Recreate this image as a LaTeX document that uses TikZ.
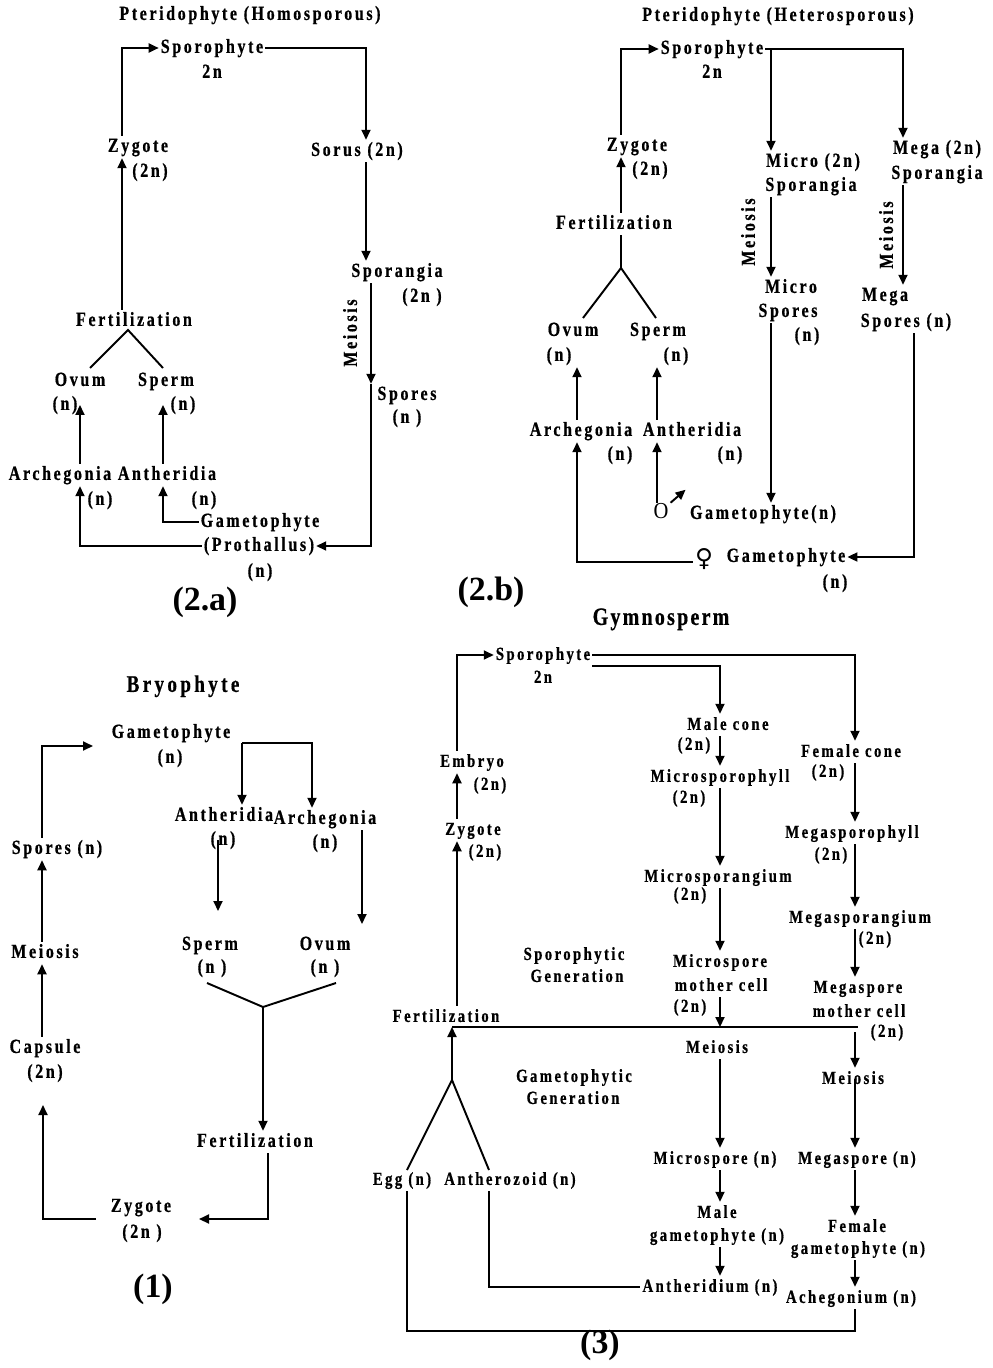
\documentclass[tikz,border=0pt]{standalone}
\usepackage{fontspec}
\usetikzlibrary{arrows.meta}
\newfontfamily\spc{Liberation Serif Bold}[FakeStretch=0.8,LetterSpace=13,FakeBold=0.6]
\newfontfamily\tspc{Liberation Serif Bold}[FakeStretch=0.8,LetterSpace=14,FakeBold=0.6]
\newfontfamily\gspc{Liberation Serif Bold}[FakeStretch=0.8,LetterSpace=9,FakeBold=0.6]
\newfontfamily\figf{Liberation Serif Bold}
\newfontfamily\ofont{Liberation Serif}[FakeStretch=0.9]
\newfontfamily\venus{DejaVu Sans}

\begin{document}
\begin{tikzpicture}[x=0.02cm,y=-0.02cm,
    every node/.style={inner sep=1pt,text height=8pt,text depth=2.4pt},
    lbl/.style={font=\spc\fontsize{11.4}{13}\selectfont},
    nlbl/.style={font=\spc\fontsize{10.5}{12}\selectfont},
    mlbl/.style={lbl,rotate=90},
    figlbl/.style={font=\figf\fontsize{19.3}{21}\selectfont},
    ln/.style={line width=1.1pt},
    arr/.style={ln,-{Triangle[length=0.2cm,width=0.18cm]}}]
\useasboundingbox (0,0) rectangle (992,1368);

\node[lbl] (ttl2a) at (250,15) {Pteridophyte (Homosporous)};
\node[lbl] (spo2a) at (212,48) {Sporophyte};
\node[lbl] (spo2an) at (212,73) {2n};
\node[lbl] (zyg2a) at (138,147) {Zygote};
\node[lbl] (zyg2an) at (150,172) {(2n)};
\node[lbl] (sor2a) at (357,151) {Sorus (2n)};
\node[lbl] (spg2a) at (397,272) {Sporangia};
\node[lbl] (spg2an) at (422,297) {(2n~)};
\node[mlbl] (mei2a) at (352,333) {Meiosis};
\node[lbl] (spr2a) at (407,395) {Spores};
\node[lbl] (spr2an) at (407,418) {(n~)};
\node[lbl] (fer2a) at (134,321) {Fertilization};
\node[lbl] (ovu2a) at (80,381) {Ovum};
\node[lbl] (ovu2an) at (65,405) {(n)};
\node[lbl] (spe2a) at (166,381) {Sperm};
\node[lbl] (spe2an) at (183,405) {(n)};
\node[lbl] (arc2a) at (60,475) {Archegonia};
\node[lbl] (arc2an) at (100,500) {(n)};
\node[lbl] (ant2a) at (167,475) {Antheridia};
\node[lbl] (ant2an) at (204,500) {(n)};
\node[lbl] (gam2a) at (260,522) {Gametophyte};
\node[lbl] (gam2ap) at (259,546) {(Prothallus)};
\node[lbl] (gam2an) at (260,572) {(n)};
\node[figlbl] (fig2a) at (205,606) {(2.a)};
\coordinate (c2a1) at (122,0);
\coordinate (c2a2) at (366,0);
\coordinate (c2a3) at (371,0);
\coordinate (c2a4) at (80,0);
\coordinate (c2a5) at (163,0);
\coordinate (v2aL) at (90,368);
\coordinate (v2aT) at (128,330);
\coordinate (v2aR) at (163,368);
\draw[arr] (c2a1 |- zyg2a.north) |- (spo2a.west);
\draw[arr] (c2a1 |- fer2a.north) -- (c2a1 |- zyg2a.south);
\draw[arr] (spo2a.east) -| (c2a2 |- sor2a.north);
\draw[arr] (c2a2 |- sor2a.south) -- (c2a2 |- spg2a.north);
\draw[arr] (c2a3 |- spg2a.south) -- (c2a3 |- spr2a.north);
\draw[arr] (c2a3 |- spr2a.north) |- (gam2ap.east);
\draw[arr] (gam2a.west) -| (c2a5 |- ant2a.south);
\draw[arr] (gam2ap.west) -| (c2a4 |- arc2a.south);
\draw[arr] (c2a4 |- arc2a.north) -- (c2a4 |- ovu2an.center);
\draw[arr] (c2a5 |- ant2a.north) -- (c2a5 |- spe2an.center);
\draw[ln] (v2aL) -- (v2aT) -- (v2aR);

\node[lbl] (ttl2b) at (778,16) {Pteridophyte (Heterosporous)};
\node[lbl] (spo2b) at (712,49) {Sporophyte};
\node[lbl] (spo2bn) at (712,73) {2n};
\node[lbl] (zyg2b) at (637,146) {Zygote};
\node[lbl] (zyg2bn) at (650,170) {(2n)};
\node[lbl] (fer2b) at (614,224) {Fertilization};
\node[lbl] (ovu2b) at (573,331) {Ovum};
\node[lbl] (ovu2bn) at (559,356) {(n)};
\node[lbl] (spe2b) at (658,331) {Sperm};
\node[lbl] (spe2bn) at (676,356) {(n)};
\node[lbl] (arc2b) at (581,431) {Archegonia};
\node[lbl] (arc2bn) at (620,455) {(n)};
\node[lbl] (ant2b) at (692,431) {Antheridia};
\node[lbl] (ant2bn) at (730,455) {(n)};
\node[lbl] (mic2b) at (813,162) {Micro (2n)};
\node[lbl] (mic2bs) at (811,186) {Sporangia};
\node[mlbl] (mei2b1) at (750,232) {Meiosis};
\node[lbl] (mis2b) at (791,288) {Micro};
\node[lbl] (mis2bs) at (788,312) {Spores};
\node[lbl] (mis2bn) at (807,336) {(n)};
\node[lbl] (meg2b) at (937,149) {Mega (2n)};
\node[lbl] (meg2bs) at (937,174) {Sporangia};
\node[mlbl] (mei2b2) at (888,235) {Meiosis};
\node[lbl] (mgs2b) at (885,296) {Mega};
\node[lbl] (mgs2bs) at (906,322) {Spores (n)};
\node[font=\ofont\fontsize{13}{14}\selectfont] (mal2b) at (661,514) {O};
\node[lbl] (mga2b) at (763,514) {Gametophyte(n)};
\node[font=\venus\fontsize{14}{15}\selectfont] (fem2b) at (704,562) {♀};
\node[lbl] (fga2b) at (786,557) {Gametophyte};
\node[lbl] (fga2bn) at (835,583) {(n)};
\node[figlbl] (fig2b) at (491,596) {(2.b)};
\coordinate (c2b1) at (621,0);
\coordinate (c2b2) at (771,0);
\coordinate (c2b3) at (903,0);
\coordinate (c2b4) at (577,0);
\coordinate (c2b5) at (657,0);
\coordinate (c2b6) at (914,0);
\coordinate (v2bL) at (583,318);
\coordinate (v2bT) at (621,268);
\coordinate (v2bR) at (656,318);
\draw[arr] (c2b1 |- zyg2b.north) |- (spo2b.west);
\draw[arr] (c2b1 |- fer2b.north) -- (c2b1 |- zyg2b.south);
\draw[ln] (c2b1 |- fer2b.south) -- (v2bT);
\draw[ln] (v2bL) -- (v2bT) -- (v2bR);
\draw[arr] (c2b4 |- arc2b.north) -- (c2b4 |- ovu2bn.south);
\draw[arr] (c2b5 |- ant2b.north) -- (c2b5 |- spe2bn.south);
\draw[arr] (c2b5 |- mal2b.north) -- (c2b5 |- ant2b.south);
\draw[arr] (mal2b.north east) -- ++(15,-13);
\draw[arr] (spo2b.east) -| (c2b3 |- meg2b.north);
\draw[arr] (c2b2 |- spo2b.east) -- (c2b2 |- mic2b.north);
\draw[arr] (c2b2 |- mic2bs.south) -- (c2b2 |- mis2b.north);
\draw[arr] (c2b2 |- mis2bs.south) -- (c2b2 |- mga2b.north);
\draw[arr] (c2b3 |- meg2bs.south) -- (c2b3 |- mgs2b.north);
\draw[arr] (c2b6 |- mgs2bs.south) |- (fga2b.east);
\draw[arr] (fem2b.west) -| (c2b4 |- arc2b.south);

\node[font=\tspc\fontsize{13.6}{15}\selectfont] (ttl1) at (183,687) {Bryophyte};
\node[lbl] (gam1) at (171,733) {Gametophyte};
\node[lbl] (gam1n) at (170,758) {(n)};
\node[lbl] (spr1) at (57,849) {Spores (n)};
\node[lbl] (mei1) at (45,953) {Meiosis};
\node[lbl] (cap1) at (45,1048) {Capsule};
\node[lbl] (cap1n) at (45,1073) {(2n)};
\node[lbl] (zyg1) at (141,1207) {Zygote};
\node[lbl] (zyg1n) at (142,1233) {(2n~)};
\node[lbl] (fer1) at (255,1142) {Fertilization};
\node[lbl] (ant1) at (224,816) {Antheridia};
\node[lbl] (ant1n) at (223,840) {(n)};
\node[lbl] (arc1) at (325,819) {Archegonia};
\node[lbl] (arc1n) at (325,843) {(n)};
\node[lbl] (spe1) at (210,945) {Sperm};
\node[lbl] (spe1n) at (212,968) {(n~)};
\node[lbl] (ovu1) at (325,945) {Ovum};
\node[lbl] (ovu1n) at (325,968) {(n~)};
\node[figlbl] (fig1) at (153,1293) {(1)};
\coordinate (c1a) at (42,0);
\coordinate (g1in) at (93,746);
\coordinate (b1) at (242,743);
\coordinate (c1b) at (312,0);
\coordinate (s1in) at (218,911);
\coordinate (o1in) at (362,924);
\coordinate (v1L) at (207,983);
\coordinate (v1T) at (263,1007);
\coordinate (v1R) at (336,983);
\coordinate (cp1in) at (43,1105);
\coordinate (z1out) at (96,1219);
\coordinate (z1in) at (199,1219);
\coordinate (c1d) at (268,0);
\draw[arr] (c1a |- spr1.north) |- (g1in);
\draw[arr] (c1a |- mei1.north) -- (c1a |- spr1.south);
\draw[arr] (c1a |- cap1.north) -- (c1a |- mei1.south);
\draw[arr] (z1out) -| (cp1in);
\draw[arr] (c1d |- fer1.south) |- (z1in);
\draw[arr] (b1) -- (b1 |- ant1.north);
\draw[arr] (b1) -| (c1b |- arc1.north);
\draw[arr] (s1in |- ant1n.center) -- (s1in);
\draw[arr] (o1in |- arc1.south) -- (o1in);
\draw[ln] (v1L) -- (v1T) -- (v1R);
\draw[arr] (v1T) -- (v1T |- fer1.north);

\node[font=\gspc\fontsize{14.2}{16}\selectfont] (ttl3) at (661,620) {Gymnosperm};
\node[nlbl] (spo3) at (543,655) {Sporophyte};
\node[nlbl] (spo3n) at (543,678) {2n};
\node[nlbl] (emb3) at (472,762) {Embryo};
\node[nlbl] (emb3n) at (490,785) {(2n)};
\node[nlbl] (zyg3) at (473,830) {Zygote};
\node[nlbl] (zyg3n) at (485,852) {(2n)};
\node[nlbl] (fer3) at (446,1017) {Fertilization};
\node[nlbl] (spg3) at (574,955) {Sporophytic};
\node[nlbl] (spg3b) at (577,977) {Generation};
\node[nlbl] (gmg3) at (574,1077) {Gametophytic};
\node[nlbl] (gmg3b) at (573,1099) {Generation};
\node[nlbl] (egg3) at (402,1180) {Egg (n)};
\node[nlbl] (atz3) at (510,1180) {Antherozoid (n)};
\node[nlbl] (mc3) at (728,725) {Male cone};
\node[nlbl] (mc3n) at (694,745) {(2n)};
\node[nlbl] (msp3) at (720,777) {Microsporophyll};
\node[nlbl] (msp3n) at (689,798) {(2n)};
\node[nlbl] (msg3) at (718,877) {Microsporangium};
\node[nlbl] (msg3n) at (690,895) {(2n)};
\node[nlbl] (mmc3) at (720,962) {Microspore};
\node[nlbl] (mmc3b) at (721,986) {mother cell};
\node[nlbl] (mmc3n) at (690,1007) {(2n)};
\node[nlbl] (mei3a) at (717,1048) {Meiosis};
\node[nlbl] (mis3) at (715,1159) {Microspore (n)};
\node[nlbl] (mg3) at (717,1213) {Male};
\node[nlbl] (mg3b) at (717,1236) {gametophyte (n)};
\node[nlbl] (atd3) at (710,1287) {Antheridium (n)};
\node[nlbl] (fc3) at (851,752) {Female cone};
\node[nlbl] (fc3n) at (828,772) {(2n)};
\node[nlbl] (mgp3) at (852,833) {Megasporophyll};
\node[nlbl] (mgp3n) at (831,855) {(2n)};
\node[nlbl] (mgg3) at (860,918) {Megasporangium};
\node[nlbl] (mgg3n) at (875,939) {(2n)};
\node[nlbl] (mgc3) at (858,988) {Megaspore};
\node[nlbl] (mgc3b) at (859,1012) {mother cell};
\node[nlbl] (mgc3n) at (887,1032) {(2n)};
\node[nlbl] (mei3b) at (853,1079) {Meiosis};
\node[nlbl] (mgs3) at (857,1159) {Megaspore (n)};
\node[nlbl] (fg3) at (857,1227) {Female};
\node[nlbl] (fg3b) at (858,1249) {gametophyte (n)};
\node[nlbl] (ach3) at (851,1298) {Achegonium (n)};
\node[figlbl] (fig3) at (600,1349) {(3)};
\coordinate (c3a) at (457,0);
\coordinate (c3b) at (720,0);
\coordinate (c3c) at (855,0);
\coordinate (d3) at (858,1027);
\coordinate (v3L) at (407,1170);
\coordinate (v3T) at (452,1080);
\coordinate (v3R) at (489,1170);
\coordinate (b3) at (600,1331);
\draw[arr] (c3a |- emb3.north) |- (spo3.west);
\draw[arr] (c3a |- zyg3.north) -- (c3a |- emb3.south);
\draw[arr] (c3a |- fer3.north) -- (c3a |- zyg3.south);
\draw[ln] (v3T |- d3) -- (d3);
\draw[ln] (v3L) -- (v3T) -- (v3R);
\draw[arr] (v3T) -- (v3T |- d3);
\draw[ln] (v3L |- egg3.south) -- (v3L |- b3) -| (c3c |- ach3.south);
\draw[ln] (v3R |- atz3.south) |- (atd3.west);
\draw[arr] (spo3.south east) -| (c3b |- mc3.north);
\draw[arr] (spo3.east) -| (c3c |- fc3.north);
\draw[arr] (c3b |- mc3.south) -- (c3b |- msp3.north);
\draw[arr] (c3b |- msp3.south) -- (c3b |- msg3.north);
\draw[arr] (c3b |- msg3.south) -- (c3b |- mmc3.north);
\draw[arr] (c3b |- mmc3b.south) -- (c3b |- d3);
\draw[arr] (c3b |- mei3a.south) -- (c3b |- mis3.north);
\draw[arr] (c3b |- mis3.south) -- (c3b |- mg3.north);
\draw[arr] (c3b |- mg3b.south) -- (c3b |- atd3.north);
\draw[arr] (c3c |- fc3.south) -- (c3c |- mgp3.north);
\draw[arr] (c3c |- mgp3.south) -- (c3c |- mgg3.north);
\draw[arr] (c3c |- mgg3.south) -- (c3c |- mgc3.north);
\draw[arr] (c3c |- mgc3n.center) -- (c3c |- mei3b.north);
\draw[arr] (c3c |- mei3b.center) -- (c3c |- mgs3.north);
\draw[arr] (c3c |- mgs3.south) -- (c3c |- fg3.north);
\draw[arr] (c3c |- fg3b.south) -- (c3c |- ach3.north);
\end{tikzpicture}
\end{document}
